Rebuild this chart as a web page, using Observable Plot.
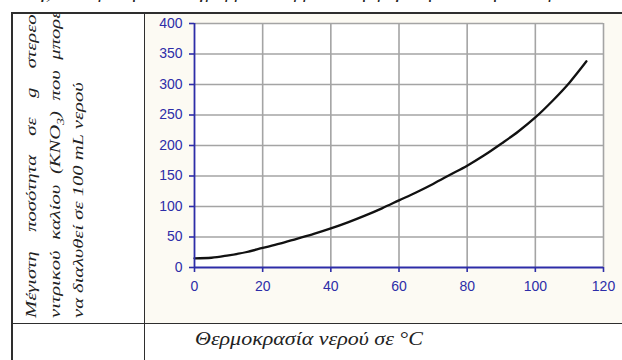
<!DOCTYPE html>
<html>
<head>
<meta charset="utf-8">
<script src="https://cdn.jsdelivr.net/npm/d3@7"></script>
<script src="https://cdn.jsdelivr.net/npm/@observablehq/plot@0.6"></script>
<style>
  body { margin: 0; background: #fff; }
  #page { position: relative; width: 622px; height: 360px; overflow: hidden; background: #fff;
          font-family: "Liberation Serif", "DejaVu Serif", serif; color: #222; }
  .ln { position: absolute; background: #2e2e2e; }
  #chart { position: absolute; left: 145px; top: 14px; }
  #leftcell { position: absolute; left: 11px; top: 13px; width: 133px; height: 310px; overflow: hidden; }
  .rot { position: absolute; transform-origin: 0 0; font-style: italic; font-size: 15px; line-height: 24px; white-space: nowrap; }
  .just { text-align: justify; text-align-last: justify; white-space: normal; }
  #xlabel { position: absolute; left: 195px; top: 329px; font-style: italic; font-size: 19px; line-height: 19px;
            white-space: nowrap; transform-origin: 0 0; display: inline-block; }
  #toptext { position: absolute; left: 40px; top: -18px; font-style: italic; font-size: 19px; line-height: 19px;
             white-space: nowrap; word-spacing: 6px; }
</style>
</head>
<body>
<div id="page">
  <div id="toptext"></div>
  <div id="chart"></div>
  <div id="leftcell">
    <div class="rot just" id="r1"></div>
    <div class="rot just" id="r2"></div>
    <div class="rot" id="r3" style="display:inline-block"></div>
  </div>
  <div id="xlabel"></div>
  <div class="ln" style="left:11px;top:12px;width:611px;height:1.5px"></div>
  <div class="ln" style="left:11px;top:12px;width:1.5px;height:348px"></div>
  <div class="ln" style="left:143.5px;top:12px;width:1.5px;height:348px"></div>
  <div class="ln" style="left:11px;top:322.5px;width:611px;height:1.5px"></div>
</div>
<script>
// ---- data ----
const temperatures = [0, 5, 10, 15, 20, 25, 30, 35, 40, 45, 50, 55, 60, 65, 70, 75, 80, 85, 90, 95, 100, 105, 110, 115];
const solubility   = [15, 16, 20, 25, 32, 39, 47, 55, 64, 74, 85, 97, 110, 123, 137, 152, 167, 184, 203, 223, 246, 273, 303, 338];
const xTicks = [0, 20, 40, 60, 80, 100, 120];
const yTicks = [0, 50, 100, 150, 200, 250, 300, 350, 400];

// ---- texts ----
const yLabelLines = [
  "Μέγιστη ποσότητα σε g στερεού",
  "νιτρικού καλίου (KNO<sub style=\"font-size:10px\">3</sub>) που μπορεί",
  "να διαλυθεί σε 100 mL νερού"
];
const xLabelText = "Θερμοκρασία νερού σε °C";
const topText = "γ) Με βάση το διάγραμμα να βρείτε τη μέγιστη ποσότητα στερεού που μπορεί να διαλυθεί";

const data = temperatures.map((t, i) => ({t, s: solubility[i]}));
const axisBlue = "#2d2da8";

const chart = Plot.plot({
  width: 477,
  height: 309,
  marginLeft: 49,
  marginTop: 9,
  marginRight: 19,
  marginBottom: 56,
  x: {domain: [0, 120]},
  y: {domain: [0, 400]},
  style: {background: "#fcfaf3", fontFamily: "'Liberation Sans', Arial, sans-serif", fontSize: "14px", overflow: "visible"},
  marks: [
    Plot.frame({fill: "white", stroke: null}),
    Plot.gridX(xTicks.filter(d => d > 0), {stroke: "#a4a4a4", strokeOpacity: 1, strokeWidth: 1.6}),
    Plot.gridY(yTicks.filter(d => d > 0), {stroke: "#a4a4a4", strokeOpacity: 1, strokeWidth: 1.6}),
    Plot.line(data, {x: "t", y: "s", stroke: "#111", strokeWidth: 2.3, curve: "monotone-x"}),
    Plot.ruleX([0], {stroke: axisBlue, strokeWidth: 1.8}),
    Plot.ruleY([0], {stroke: axisBlue, strokeWidth: 1.8}),
    Plot.axisX({ticks: xTicks, tickSize: 5, tickPadding: 9, color: axisBlue, strokeWidth: 1.6, label: null, tickFormat: d => String(d)}),
    Plot.axisY({ticks: yTicks, tickSize: 5, tickPadding: 7, color: axisBlue, strokeWidth: 1.6, label: null, tickFormat: d => String(d)})
  ]
});
document.getElementById("chart").append(chart);

// ---- surrounding table texts ----
document.getElementById("toptext").textContent = topText;
const r1 = document.getElementById("r1");
const r2 = document.getElementById("r2");
const r3 = document.getElementById("r3");
r1.innerHTML = yLabelLines[0];
r2.innerHTML = yLabelLines[1];
r3.innerHTML = yLabelLines[2];
const k = 236 / r3.offsetWidth;
const baselines = [36, 60, 83.5];
[r1, r2, r3].forEach((el, i) => {
  el.style.left = (baselines[i] - 17.1 - 11) + "px";
  el.style.top = (318 - 13) + "px";
  el.style.transform = `rotate(-90deg) scaleX(${k})`;
});
r1.style.width = (313 / k) + "px";
r2.style.width = (313 / k) + "px";

const xl = document.getElementById("xlabel");
xl.textContent = xLabelText;
const kx = 228 / xl.offsetWidth;
xl.style.transform = `scaleX(${kx})`;
</script>
</body>
</html>
